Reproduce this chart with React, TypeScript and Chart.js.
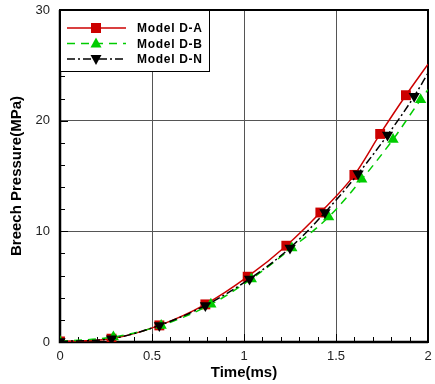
import React, { useEffect, useRef } from "react";
import { Chart, registerables } from "chart.js";

Chart.register(...registerables);

const timeA = [0, 0.28, 0.54, 0.79, 1.02, 1.23, 1.415, 1.6, 1.74, 1.88, 2.0];
const presA = [0.05, 0.3, 1.5, 3.4, 5.9, 8.7, 11.7, 15.1, 18.8, 22.3, 25.1];
const timeB = [0, 0.29, 0.55, 0.82, 1.04, 1.26, 1.46, 1.64, 1.81, 1.96, 2.0];
const presB = [0.05, 0.45, 1.5, 3.4, 5.7, 8.5, 11.3, 14.7, 18.3, 21.9, 22.8];
const timeN = [0, 0.28, 0.54, 0.79, 1.03, 1.25, 1.44, 1.62, 1.78, 1.925, 2.0];
const presN = [0.05, 0.3, 1.5, 3.3, 5.7, 8.5, 11.7, 15.2, 18.7, 22.2, 24.3];

const seriesNames = ["Model D-A", "Model D-B", "Model D-N"];
const xTicks = [0, 0.5, 1, 1.5, 2];
const yTicks = [0, 10, 20, 30];

const FONT = "'Liberation Sans', Arial, sans-serif";
const RED = "#cc0000";
const GREEN = "#00cc00";
const BLACK = "#000000";

function pts(xs: number[], ys: number[]) {
  return xs.map((x, i) => ({ x, y: ys[i] }));
}
function radii(n: number, r: number) {
  return Array.from({ length: n }, (_, i) => (i === n - 1 ? 0 : r));
}

const frameAndLegend = {
  id: "frameAndLegend",
  beforeDatasetsDraw(chart: any) {
    const { ctx, chartArea: a, scales } = chart;
    const xs = scales.x;
    const ys = scales.y;
    ctx.save();
    ctx.strokeStyle = "#000";
    ctx.lineWidth = 1;
    for (let i = 0; i <= 20; i++) {
      const v = i / 10;
      const px = Math.round(xs.getPixelForValue(v)) + 0.5;
      const len = i % 5 === 0 ? 8 : 5;
      ctx.beginPath();
      ctx.moveTo(px, a.bottom);
      ctx.lineTo(px, a.bottom - len);
      ctx.stroke();
    }
    for (let i = 0; i <= 15; i++) {
      const v = i * 2;
      const py = Math.round(ys.getPixelForValue(v)) + 0.5;
      const len = v % 10 === 0 ? 8 : 5;
      ctx.beginPath();
      ctx.moveTo(a.left, py);
      ctx.lineTo(a.left + len, py);
      ctx.stroke();
    }
    ctx.lineWidth = 2;
    ctx.strokeRect(a.left, a.top, a.right - a.left, a.bottom - a.top);
    ctx.lineWidth = 2.5;
    ctx.beginPath();
    ctx.moveTo(a.left, a.top);
    ctx.lineTo(a.left, a.bottom);
    ctx.lineTo(a.right, a.bottom);
    ctx.stroke();
    ctx.restore();
  },
  afterDraw(chart: any) {
    const { ctx, chartArea: a } = chart;
    ctx.save();
    const bx = a.left;
    const by = a.top;
    const bw = 149;
    const bh = 61;
    ctx.fillStyle = "#fff";
    ctx.fillRect(bx, by, bw, bh);
    ctx.strokeStyle = "#000";
    ctx.lineWidth = 1;
    ctx.strokeRect(bx + 0.5, by + 0.5, bw, bh);
    const rows = [18, 33.5, 49];
    const styles = [
      { color: RED, dash: [] as number[], shape: "rect" },
      { color: GREEN, dash: [8, 6], shape: "tri" },
      { color: BLACK, dash: [8, 3, 2, 3], shape: "inv" },
    ];
    styles.forEach((s, i) => {
      const y = by + rows[i];
      ctx.strokeStyle = s.color;
      ctx.lineWidth = 1.5;
      ctx.setLineDash(s.dash);
      ctx.beginPath();
      ctx.moveTo(bx + 7, y);
      ctx.lineTo(bx + 66, y);
      ctx.stroke();
      ctx.setLineDash([]);
      ctx.fillStyle = s.color;
      const cx = bx + 36;
      if (s.shape === "rect") {
        ctx.fillRect(cx - 5, y - 5, 10, 10);
      } else if (s.shape === "tri") {
        ctx.beginPath();
        ctx.moveTo(cx, y - 6);
        ctx.lineTo(cx + 5.5, y + 4);
        ctx.lineTo(cx - 5.5, y + 4);
        ctx.closePath();
        ctx.fill();
      } else {
        ctx.beginPath();
        ctx.moveTo(cx, y + 6);
        ctx.lineTo(cx + 5.5, y - 4);
        ctx.lineTo(cx - 5.5, y - 4);
        ctx.closePath();
        ctx.fill();
      }
      ctx.fillStyle = "#000";
      ctx.font = `bold 12px ${FONT}`;
      (ctx as any).letterSpacing = "0.7px";
      ctx.textBaseline = "middle";
      ctx.textAlign = "left";
      ctx.fillText(seriesNames[i], bx + 77, y + 1);
      (ctx as any).letterSpacing = "0px";
    });
    ctx.restore();
  },
};

export default function App() {
  const ref = useRef<HTMLCanvasElement | null>(null);
  useEffect(() => {
    document.body.style.margin = "0";
    const canvas = ref.current!;
    const chart = new Chart(canvas, {
      type: "line",
      data: {
        datasets: [
          {
            label: seriesNames[0],
            data: pts(timeA, presA),
            borderColor: RED,
            backgroundColor: RED,
            borderWidth: 1.5,
            pointStyle: "rect",
            pointRadius: radii(timeA.length, 7),
            pointBorderWidth: 0,
            cubicInterpolationMode: "monotone",
            order: 2,
          },
          {
            label: seriesNames[1],
            data: pts(timeB, presB),
            borderColor: GREEN,
            backgroundColor: GREEN,
            borderWidth: 1.5,
            borderDash: [8, 6],
            pointStyle: "triangle",
            pointRadius: radii(timeB.length, 6.5),
            pointBorderWidth: 0,
            cubicInterpolationMode: "monotone",
            order: 1,
          },
          {
            label: seriesNames[2],
            data: pts(timeN, presN),
            borderColor: BLACK,
            backgroundColor: BLACK,
            borderWidth: 1.5,
            borderDash: [8, 3, 2, 3],
            pointStyle: "triangle",
            rotation: 180,
            pointRadius: radii(timeN.length, 6.5),
            pointBorderWidth: 0,
            cubicInterpolationMode: "monotone",
            order: 0,
          },
        ] as any,
      },
      options: {
        animation: false,
        responsive: false,
        maintainAspectRatio: false,
        layout: { padding: { top: 10, right: 3, left: 0, bottom: 0 } },
        plugins: { legend: { display: false }, tooltip: { enabled: false } },
        scales: {
          x: {
            type: "linear",
            min: 0,
            max: 2,
            afterFit: (s: any) => {
              s.height = 42;
              s.paddingLeft = 0;
              s.paddingRight = 0;
            },
            afterBuildTicks: (s: any) => {
              s.ticks = xTicks.map((v) => ({ value: v }));
            },
            ticks: {
              padding: 7,
              color: "#222",
              font: { family: FONT, size: 13 },
              maxRotation: 0,
              callback: (v: any) => String(v),
            },
            grid: { color: "#555", lineWidth: 1, drawTicks: false },
            border: { display: false },
            title: {
              display: true,
              text: "Time(ms)",
              color: "#000",
              font: { family: FONT, size: 15, weight: "bold" },
              padding: { top: 0, bottom: 2 },
            },
          },
          y: {
            type: "linear",
            min: 0,
            max: 30,
            afterFit: (s: any) => {
              s.width = 60;
              s.paddingTop = 0;
              s.paddingBottom = 0;
            },
            afterBuildTicks: (s: any) => {
              s.ticks = yTicks.map((v) => ({ value: v }));
            },
            ticks: {
              padding: 10,
              color: "#222",
              font: { family: FONT, size: 13 },
              callback: (v: any) => String(v),
            },
            grid: { color: "#555", lineWidth: 1, drawTicks: false },
            border: { display: false },
            title: {
              display: true,
              text: "Breech Pressure(MPa)",
              color: "#000",
              font: { family: FONT, size: 15, weight: "bold" },
              padding: { top: 8, bottom: 0 },
            },
          },
        },
      },
      plugins: [frameAndLegend],
    });
    return () => chart.destroy();
  }, []);
  return (
    <canvas
      ref={ref}
      width={435}
      height={384}
      style={{ display: "block", width: 435, height: 384 }}
    />
  );
}
